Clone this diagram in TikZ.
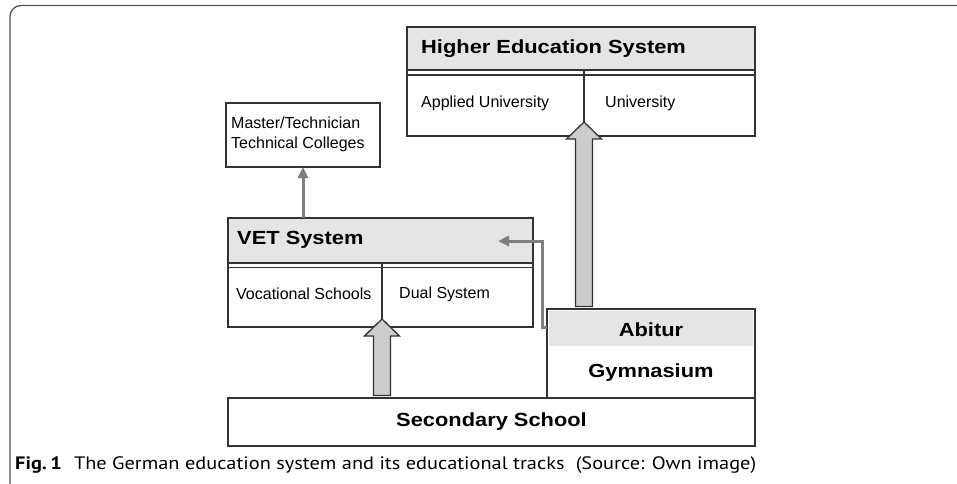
\documentclass[tikz,border=0pt]{standalone}
\usepackage{fontspec}
\setmainfont{Liberation Sans}
\newfontfamily\hdfont{Liberation Sans}[FakeStretch=1.15]
\newfontfamily\capfont{PT Sans}
\usetikzlibrary{calc,arrows.meta}
\definecolor{hdgray}{HTML}{E5E5E5}
\definecolor{arrfill}{HTML}{CCCCCC}
\definecolor{edge}{HTML}{333333}
\definecolor{thinarr}{HTML}{7F7F7F}
\definecolor{framec}{HTML}{555555}
\tikzset{
  boxx/.style={draw=edge, line width=1.4pt, anchor=north west, inner sep=0pt, outer sep=0pt},
  hdbox/.style={boxx, fill=hdgray},
  hdtext/.style={font=\hdfont\bfseries\fontsize{19}{22}\selectfont, inner sep=0pt, anchor=west},
  ctext/.style={font=\hdfont\bfseries\fontsize{19}{22}\selectfont, inner sep=0pt},
  smtext/.style={font=\fontsize{16}{20}\selectfont, inner sep=0pt, anchor=west},
  blockarr/.style={fill=arrfill, draw=edge, line width=1.3pt, line join=miter},
  thin/.style={draw=thinarr, line width=3pt, -{Triangle[length=11pt,width=10pt]}},
  innerline/.style={draw=edge, line width=1.4pt},
}
\newcommand{\blockup}[2]{%
  \path[blockarr] ($(#1)+(-8.5,0)$) -- ($(#2)+(-8.5,17)$) -- ($(#2)+(-17.5,17)$) -- (#2)
    -- ($(#2)+(17.5,17)$) -- ($(#2)+(8.5,17)$) -- ($(#1)+(8.5,0)$) -- cycle;}
\begin{document}
\begin{tikzpicture}[x=1pt,y=-1pt]
\useasboundingbox (0,0) rectangle (957,483);
\clip (0,0) rectangle (957,483);
% frame
\draw[framec, line width=1.3pt, rounded corners=11pt] (10,500) -- (10,5.5) -- (980,5.5);

% Higher education
\node[boxx, minimum width=348pt, minimum height=109pt] (he) at (407,27) {};
\node[hdbox, minimum width=348pt, minimum height=43pt] (heh) at (407,27) {};
\draw[innerline] ($(heh.south west)+(0,5)$) -- ($(heh.south east)+(0,5)$);
\coordinate (hediv) at (584,70);
\draw[innerline] (hediv) -- (hediv |- he.south);
\node[hdtext] (hetxt) at (421,49) {Higher Education System};
\node[smtext] (appl) at (421,103) {Applied University};
\node[smtext] (uni) at (605,103) {University};

% Master
\node[boxx, minimum width=154pt, minimum height=64pt] (mast) at (226,103) {};
\node[smtext, align=left, font=\fontsize{16}{20}\selectfont] (masttxt) at (231,134) {Master/Technician\\Technical Colleges};

% VET
\node[boxx, minimum width=305pt, minimum height=109pt] (vet) at (228,218) {};
\node[hdbox, minimum width=305pt, minimum height=45pt] (veth) at (228,218) {};
\draw[innerline] ($(veth.south west)+(0,4.5)$) -- ($(veth.south east)+(0,4.5)$);
\coordinate (vetdiv) at (382,263);
\draw[innerline] (vetdiv) -- (vetdiv |- vet.south);
\node[hdtext] (vettxt) at (237,240) {VET System};
\node[smtext] (voc) at (236,294) {Vocational Schools};
\node[smtext] (dual) at (399,294) {Dual System};

% Gymnasium
\node[boxx, minimum width=208pt, minimum height=89pt] (gym) at (547,309) {};
\fill[hdgray] ($(gym.north west)+(1.5,2)$) rectangle ($(gym.north east)+(-2,37)$);
\node[ctext] (abi) at (651,330) {Abitur};
\node[ctext] (gymtxt) at (651,373) {Gymnasium};

% Secondary
\node[boxx, minimum width=527pt, minimum height=48pt] (sec) at (228,398) {};
\node[ctext] (sectxt) at (sec.center) {Secondary School};

% block arrows
\coordinate (t1) at (584,122);
\coordinate (b1) at (584,306.5);
\blockup{b1}{t1}
\coordinate (t2) at (382,319);
\coordinate (b2) at (382,395.5);
\blockup{b2}{t2}

% thin arrows
\coordinate (vettip) at (498,241);
\draw[thin] ($(gym.north west)+(0,18)$) -- (542,327) -- (542,241) -- (vettip);
\draw[thin] (vet.north -| mast.south) -- (mast.south);

% caption
\node[anchor=base west, inner sep=0pt, font=\capfont\fontsize{18}{20}\selectfont] (cap) at (15,469)
  {\scalebox{1.13}[1]{\textbf{Fig.\,1}\hspace{0.6em}The German education system and its educational tracks\hspace{0.55em}(Source: Own image)}};
\end{tikzpicture}
\end{document}
